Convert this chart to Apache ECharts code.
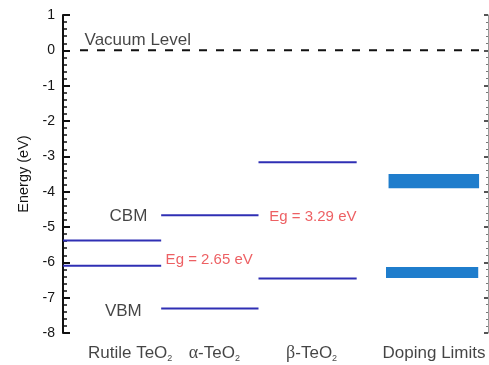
<!DOCTYPE html>
<html>
<head>
<meta charset="utf-8">
<script src="https://cdn.jsdelivr.net/npm/echarts@6/dist/echarts.min.js"></script>
<style>html,body{margin:0;padding:0;background:#fff}#c{width:489px;height:365px}</style>
</head>
<body>
<div id="c"></div>
<script>
// ---- data ----
var materials = ['Rutile TeO₂', 'α-TeO₂', 'β-TeO₂'];
var cbm = [-5.38, -4.67, -3.17];
var vbm = [-6.10, -7.31, -6.46];
var gapLabels = ['Eg = 2.65 eV', 'Eg = 3.29 eV'];
var dopingN = [-3.50, -3.90];   // n-type doping limit band (top, bottom)
var dopingP = [-6.13, -6.44];   // p-type doping limit band (top, bottom)
var vacuumLevel = 0;
var yTicks = [1, 0, -1, -2, -3, -4, -5, -6, -7, -8];

// ---- layout (x in arbitrary 0..10 units) ----
var spans = [[0, 2.31], [2.31, 4.6], [4.6, 6.91]];
var dopingSpanN = [7.66, 9.79];
var dopingSpanP = [7.6, 9.77];
var levelColor = '#2f2fb4';
var bandColor = '#1f7dcc';
var redColor = '#e8383c';
var ink = '#151515';
var font = 'Liberation Sans, Arial, sans-serif';

var series = [];
// vacuum level
series.push({
  type: 'line', xAxisIndex: 0, yAxisIndex: 0, symbol: 'none', silent: true,
  data: [[0.4, vacuumLevel], [9.81, vacuumLevel]],
  lineStyle: { color: '#111', width: 2, type: [8, 9] }
});
// band edges
for (var i = 0; i < materials.length; i++) {
  [cbm[i], vbm[i]].forEach(function (v) {
    series.push({
      type: 'line', symbol: 'none', silent: true,
      data: [[spans[i][0], v], [spans[i][1], v]],
      lineStyle: { color: levelColor, width: 2 }
    });
  });
}
// doping limit bands
series.push({
  type: 'custom', silent: true,
  data: [[dopingSpanN[0], dopingSpanN[1], dopingN[0], dopingN[1]],
         [dopingSpanP[0], dopingSpanP[1], dopingP[0], dopingP[1]]],
  renderItem: function (params, api) {
    var p1 = api.coord([api.value(0), api.value(2)]);
    var p2 = api.coord([api.value(1), api.value(3)]);
    return { type: 'rect', shape: { x: p1[0], y: p1[1], width: p2[0] - p1[0], height: p2[1] - p1[1] },
             style: { fill: bandColor } };
  }
});
// annotations
function txt(x, y, text, color, size) {
  return { value: [x, y], label: { show: true, position: 'inside', formatter: text, color: color, fontSize: size, fontFamily: font } };
}
series.push({
  type: 'scatter', symbolSize: 1, itemStyle: { color: 'rgba(0,0,0,0)' }, silent: true,
  data: [
    txt(1.76, 0.28, 'Vacuum Level', ink, 17),
    txt(1.54, -4.70, 'CBM', ink, 17),
    txt(1.42, -7.38, 'VBM', ink, 17),
    txt(3.44, -5.92, gapLabels[0], redColor, 15),
    txt(5.88, -4.72, gapLabels[1], redColor, 15)
  ]
});

// category labels under the plot
var catCenters = [1.58, 3.56, 5.85, 8.73];
var catRich = [
  '{t|Rutile TeO}{s|2}', '{g|α}{t|-TeO}{s|2}', '{g|β}{t|-TeO}{s|2}', '{t|Doping Limits}'
];
series.push({
  type: 'scatter', symbolSize: 1, itemStyle: { color: 'rgba(0,0,0,0)' }, silent: true,
  data: catCenters.map(function (x, k) {
    return { value: [x, -8], label: { show: true, position: 'inside', offset: [0, 20], formatter: catRich[k],
      rich: {
        t: { fontSize: 17, fontFamily: font, color: ink },
        g: { fontSize: 18, fontFamily: 'Liberation Serif, Times New Roman, serif', color: ink },
        s: { fontSize: 9, fontFamily: font, color: ink, padding: [12, 0, 0, 0] }
      } } };
  })
});

var chart = echarts.init(document.getElementById('c'));
chart.setOption({
  animation: false,
  grid: { left: 63, right: 1, top: 15, bottom: 32 },
  xAxis: { type: 'value', min: 0, max: 10, show: false },
  yAxis: [{
    type: 'value', min: -8, max: 1, interval: 1, position: 'left',
    name: 'Energy (eV)', nameLocation: 'middle', nameGap: 31, nameRotate: 90,
    nameTextStyle: { fontSize: 14.5, fontFamily: font, color: ink },
    axisLine: { show: true, lineStyle: { color: '#111', width: 2 } },
    axisTick: { show: true, inside: true, length: 7, lineStyle: { color: '#111', width: 2 } },
    minorTick: { show: true, splitNumber: 5, length: 4, lineStyle: { color: '#111', width: 1.5 } },
    axisLabel: { color: ink, fontSize: 14, fontFamily: font, margin: 8,
      formatter: function (v) { return yTicks.indexOf(v) >= 0 ? String(v) : ''; } },
    splitLine: { show: false }
  }, {
    type: 'value', min: -8, max: 1, interval: 1, position: 'right',
    axisLine: { show: true, lineStyle: { color: '#999', width: 1 } },
    axisTick: { show: true, inside: true, length: 4, lineStyle: { color: '#555', width: 2 } },
    minorTick: { show: true, splitNumber: 5, length: 2, lineStyle: { color: '#777', width: 1 } },
    axisLabel: { show: false },
    splitLine: { show: false }
  }],
  series: series
});
</script>
</body>
</html>
